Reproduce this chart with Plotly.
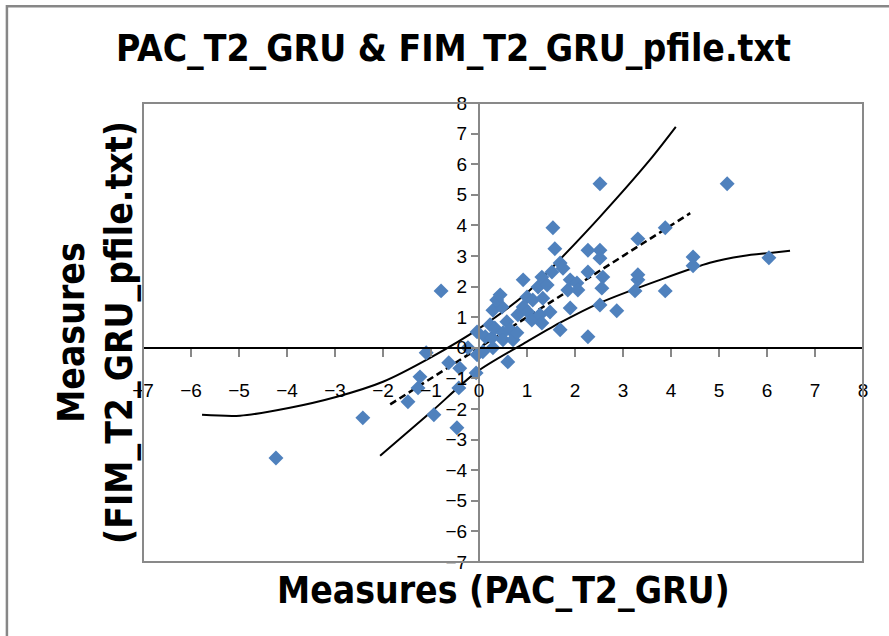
import plotly.graph_objects as go

# measures
pac = [-4.23, -2.42, -1.48, -1.27, -1.23, -0.94, -0.46, -1.1, -0.79, -0.63,
       -0.4, -0.42, -0.23, -0.06, -0.04, -0.04, 0.08, 0.13, 0.27, 0.29,
       0.23, 0.33, 0.29, 0.48, 0.37, 0.44, 0.5, 0.5, 0.58, 0.65,
       0.71, 0.79, 0.6, 0.81, 0.92, 0.92, 1.0, 1.02, 1.1, 1.12,
       1.23, 1.27, 1.31, 1.31, 1.33, 1.42, 1.48, 1.52, 1.58, 1.54,
       1.69, 1.75, 1.69, 1.85, 1.9, 1.9, 2.04, 2.06, 2.27, 2.27,
       2.27, 2.52, 2.52, 2.52, 2.58, 2.56, 2.52, 2.87, 3.25, 3.31,
       3.31, 3.31, 3.88, 3.88, 4.46, 4.46, 5.17, 6.04]
fim = [-3.6, -2.29, -1.76, -1.31, -0.95, -2.19, -2.61, -0.16, 1.86, -0.49,
       -0.67, -1.31, 0.0, -0.82, -0.23, 0.52, -0.13, 0.36, 0.33, 0.0,
       0.75, 0.65, 1.23, 1.33, 1.56, 1.73, 0.49, 0.26, 0.85, 0.59,
       0.26, 0.49, -0.46, 1.08, 1.33, 2.22, 1.66, 1.17, 0.91, 1.56,
       1.99, 1.08, 0.81, 2.31, 1.62, 2.05, 1.17, 2.48, 3.24, 3.92,
       2.77, 2.6, 0.59, 1.89, 2.22, 1.3, 2.12, 1.89, 3.19, 2.48,
       0.36, 5.36, 3.19, 2.93, 2.31, 1.95, 1.4, 1.21, 1.86, 2.22,
       2.39, 3.56, 3.92, 1.86, 2.97, 2.68, 5.36, 2.94]

# control lines
upper_x = [-5.77, -4.98, -3.94, -2.96, -2.0, -1.02, 0.02, 1.0, 1.54, 2.52, 3.56, 4.1]
upper_y = [-2.19, -2.22, -1.96, -1.6, -1.11, -0.33, 0.65, 1.8, 2.65, 4.28, 6.14, 7.22]
lower_x = [-2.06, -1.0, -0.04, 1.0, 1.69, 2.52, 3.77, 4.81, 5.5, 6.06, 6.48]
lower_y = [-3.53, -2.1, -0.78, 0.2, 0.82, 1.47, 2.22, 2.78, 3.0, 3.1, 3.17]
ident_x = [-1.85, 4.4]
ident_y = [-1.85, 4.4]

tick_vals = list(range(-7, 9))

fig = go.Figure()
fig.add_trace(go.Scatter(x=upper_x, y=upper_y, mode='lines',
                         line=dict(color='black', width=2, shape='spline', smoothing=0.8)))
fig.add_trace(go.Scatter(x=lower_x, y=lower_y, mode='lines',
                         line=dict(color='black', width=2, shape='spline', smoothing=0.8)))
fig.add_trace(go.Scatter(x=ident_x, y=ident_y, mode='lines',
                         line=dict(color='black', width=2.5, dash='7px,4px')))
fig.add_trace(go.Scatter(x=pac, y=fim, mode='markers',
                         marker=dict(symbol='diamond', size=11.5, color='#4F81BD',
                                     line=dict(width=0))))

zero_pos = 7 / 15
tickfont = dict(family='Liberation Sans', size=19, color='black')
boldfont = 'Liberation Sans Narrow, DejaVu Sans Condensed, Liberation Sans, Arial'

fig.update_layout(
    width=889, height=636,
    margin=dict(l=143, r=26, t=103, b=74),
    plot_bgcolor='white', paper_bgcolor='white',
    showlegend=False,
    title=dict(text='<b>PAC_T2_GRU & FIM_T2_GRU_pfile.txt</b>',
               x=0.51, xanchor='center', y=0.925, yanchor='middle',
               font=dict(family=boldfont, size=37, color='black')),
    xaxis=dict(range=[-7, 8], tickvals=tick_vals, showgrid=False, zeroline=False,
               anchor='free', position=zero_pos, automargin=False,
               showline=True, linecolor='black', linewidth=1.5,
               ticks='outside', ticklen=8, tickwidth=1.5, tickcolor='#888888',
               ticklabelstandoff=18, tickfont=tickfont),
    xaxis2=dict(range=[-7, 8], tickvals=tick_vals, overlaying='x', matches='x',
                anchor='free', position=zero_pos, showgrid=False, zeroline=False,
                showline=False, showticklabels=False, automargin=False,
                ticks='inside', ticklen=8, tickwidth=1.5, tickcolor='#888888'),
    yaxis=dict(range=[-7, 8], tickvals=tick_vals, showgrid=False, zeroline=False,
               anchor='free', position=zero_pos, automargin=False,
               showline=True, linecolor='#888888', linewidth=2,
               ticks='outside', ticklen=7, tickwidth=1.5, tickcolor='#888888',
               tickfont=tickfont),
    shapes=[
        dict(type='rect', xref='paper', yref='paper', x0=0, x1=1, y0=0, y1=1,
             line=dict(color='#898989', width=2), layer='above'),
        dict(type='rect', xref='paper', yref='paper', x0=-0.189, x1=1.3, y0=-0.3, y1=1.211,
             line=dict(color='#878787', width=2.5), layer='below'),
    ],
    annotations=[
        dict(text='<b>Measures (PAC_T2_GRU)</b>', xref='paper', yref='paper',
             x=0.5, y=-0.062, xanchor='center', yanchor='middle', showarrow=False,
             font=dict(family=boldfont, size=37, color='black')),
        dict(text='<b>Measures<br>(FIM_T2_GRU_pfile.txt)</b>', xref='paper', yref='paper',
             x=-0.066, y=0.5, xanchor='center', yanchor='middle', showarrow=False,
             textangle=-90,
             font=dict(family=boldfont, size=37, color='black')),
    ],
)

fig.write_html('out.html', config={'displayModeBar': False},
               post_script="document.body.style.margin='0';")
